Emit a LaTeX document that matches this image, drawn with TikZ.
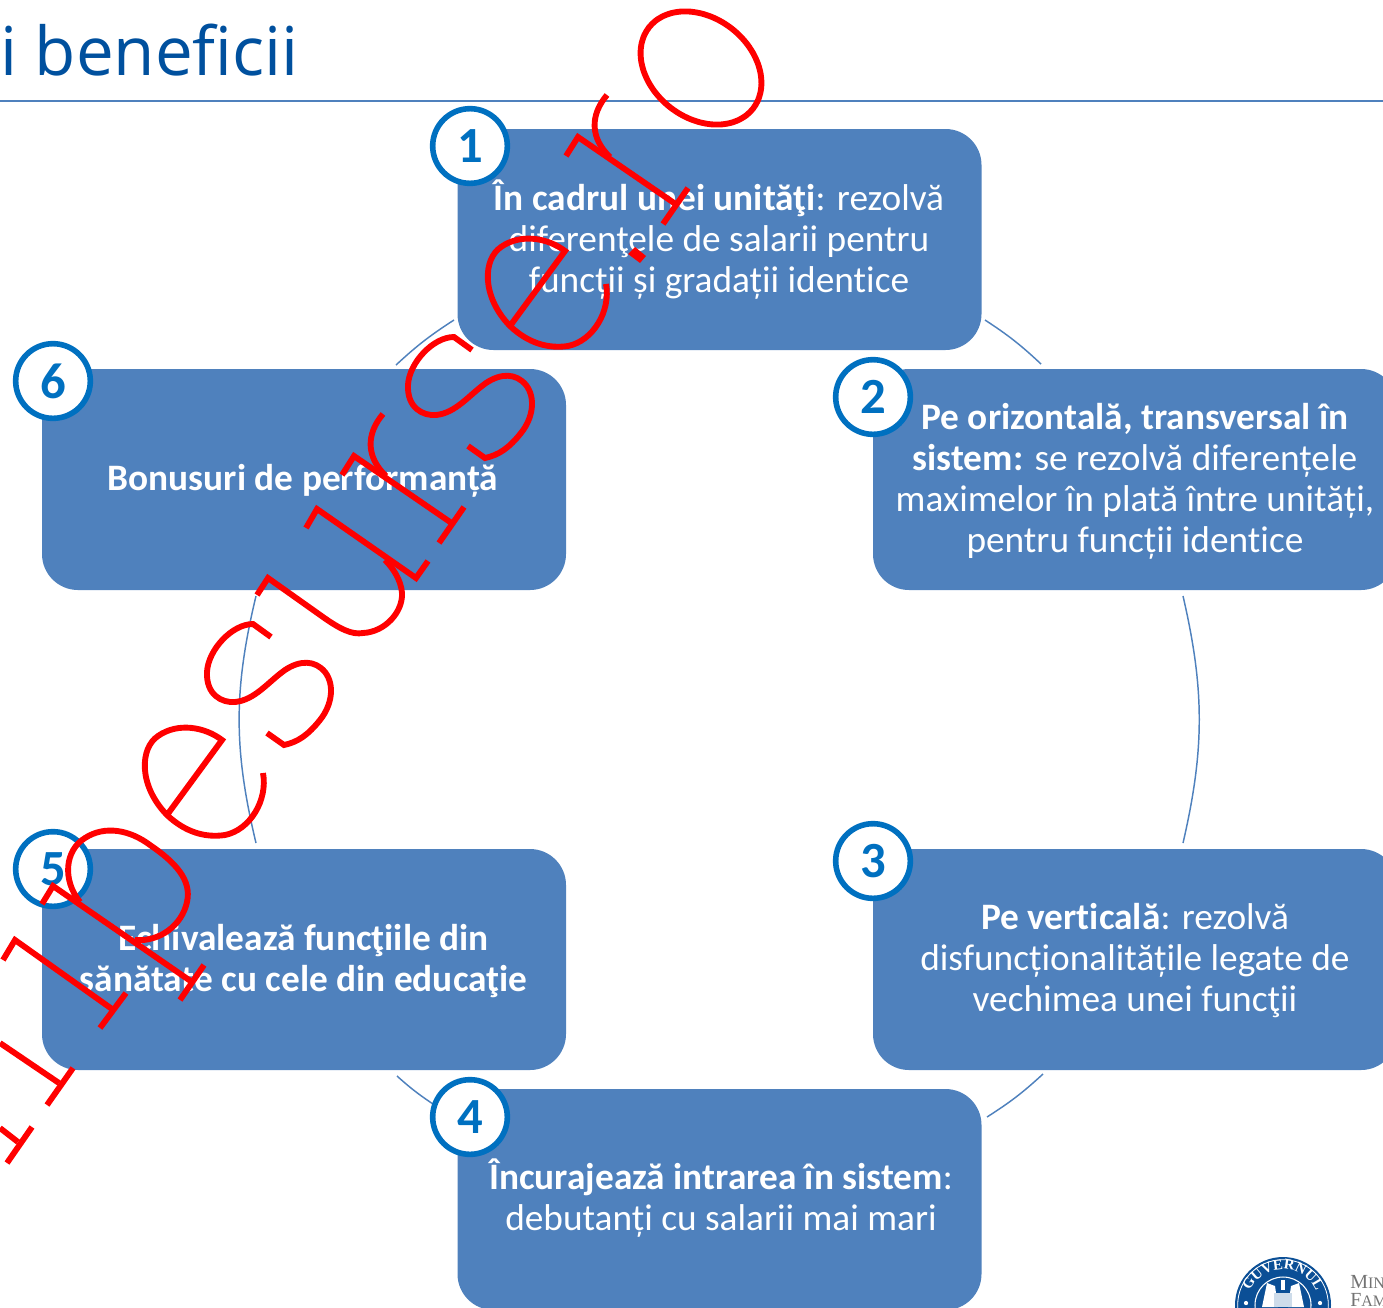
\documentclass[tikz,border=0pt]{standalone}
\usepackage{fontspec}
\setmainfont{Carlito}[Ligatures=CommonOff]
\newfontfamily\titlefont{Open Sans}
\newfontfamily\sealfont{Liberation Serif}
\usetikzlibrary{decorations.text}
\definecolor{boxblue}{HTML}{4F81BD}
\definecolor{ringblue}{HTML}{0070C0}
\definecolor{titleblue}{HTML}{00509E}
\definecolor{sealblue}{HTML}{0B4F96}
\definecolor{markred}{HTML}{FF0000}
\tikzset{
  stepbox/.style={fill=boxblue,rounded corners=27pt,minimum width=393pt,minimum height=165.75pt,inner sep=0pt},
  boxtext/.style={text=white,align=center,inner sep=0pt,font=\fontsize{28}{30.75}\selectfont},
  numring/.style={circle,draw=ringblue,line width=4.2pt,fill=white,minimum size=56pt,inner sep=0pt,
    text=ringblue,font=\fontsize{38}{38}\selectfont\bfseries},
  cyc/.style={draw=boxblue,line width=1.1pt},
  wm/.style={draw=markred,line width=4.4pt,line join=miter,miter limit=10},
  wmfill/.style={fill=markred}
}
\newcommand{\WmLetterE}[1]{%
  \draw[wm,shift={#1}] (167,815) -- (222,740) .. controls (205,727) and (178,722) .. (158,736)
    .. controls (140,748) and (138,785) .. (167,815)
    .. controls (185,832) and (205,838) .. (225,835)
    .. controls (250,830) and (268,800) .. (263,773);}
\newcommand{\WmLetterS}[1]{%
  \draw[wm,shift={#1}] (271,637) -- (253,624) .. controls (232,624) and (208,650) .. (207,672)
    .. controls (206,695) and (222,703) .. (235,702)
    .. controls (255,700) and (268,682) .. (285,670)
    .. controls (300,660) and (315,660) .. (325,672)
    .. controls (335,685) and (332,705) .. (320,720)
    .. controls (308,735) and (298,742) .. (284,745) -- (267,733);}
\newcommand{\WmLetterR}[1]{%
  \draw[wm,shift={#1}] (566,156) -- (578,137) -- (677,205);
  \draw[wm,shift={#1}] (663,224) -- (688,188);
  \draw[wm,shift={#1}] (607,95) .. controls (590,115) and (590,138) .. (610,157);}
\begin{document}
\begin{tikzpicture}[x=0.75pt,y=-0.75pt]
\useasboundingbox (0,0) rectangle (1383,1307);
% title
\node[anchor=base west,inner sep=0pt,text=titleblue,font=\titlefont\fontsize{50.5}{50.5}\selectfont] (title) at (0,75) {i beneficii};
\coordinate (ruleL) at (0,101);
\coordinate (ruleR) at (1383,101);
\draw[boxblue,line width=1.5pt] (ruleL) -- (ruleR);
% connector ends
\coordinate (a1) at (985,320);  \coordinate (a2) at (1041,364);
\coordinate (b2) at (1183,596); \coordinate (b3) at (1183,843);
\coordinate (c3) at (1043,1074);\coordinate (c4) at (987,1117);
\coordinate (d4) at (433,1104); \coordinate (d5) at (397,1076);
\coordinate (e5) at (256,843);  \coordinate (e6) at (256,596);
\coordinate (f6) at (396,365);  \coordinate (f1) at (454,320);
\draw[cyc] (a1) to[bend left=5] (a2);
\draw[cyc] (b2) to[bend left=13] (b3);
\draw[cyc] (c3) to[bend left=5] (c4);
\draw[cyc] (d4) to[bend left=4] (d5);
\draw[cyc] (e5) to[bend left=13.5] (e6);
\draw[cyc] (f6) to[bend left=5] (f1);
% boxes
\node[stepbox] (box1) at (719.5,239.5) {};
\node[stepbox] (box2) at (1135,479.5) {};
\node[stepbox] (box3) at (1135,959.5) {};
\node[stepbox] (box4) at (719.5,1199.5) {};
\node[stepbox] (box5) at (304,959.5) {};
\node[stepbox] (box6) at (304,479.5) {};
\node[boxtext] (t1) at (719,239.5) {\textbf{În cadrul unei unităţi}: rezolvă\\diferenţele de salarii pentru\\funcții și gradații identice};
\node[boxtext] (t2) at (1135,481) {\textbf{Pe orizontală, transversal în}\\\textbf{sistem:} se rezolvă diferențele\\maximelor în plată între unități,\\pentru funcții identice};
\node[boxtext] (t3) at (1135,961) {\textbf{Pe verticală}: rezolvă\\disfuncționalitățile legate de\\vechimea unei funcţii};
\node[boxtext] (t4) at (721,1198) {\textbf{Încurajează intrarea în sistem}:\\debutanți cu salarii mai mari};
\node[boxtext] (t5) at (303.5,961) {\textbf{Echivalează funcţiile din}\\\textbf{sănătate cu cele din educaţie}};
\node[boxtext] (t6) at (303,481) {\textbf{Bonusuri de performanță}};
% number rings
\node[numring] (n1) at (470,146) {1};
\node[numring] (n2) at (873,397) {2};
\node[numring] (n3) at (873,861) {3};
\node[numring] (n4) at (470,1117) {4};
\node[numring] (n5) at (53,869) {5};
\node[numring] (n6) at (53,381) {6};
% seal
\fill[sealblue] (1283,1305) circle[radius=36pt];
\draw[white,line width=0.6pt] (1283,1305) circle[radius=34pt];
\draw[white,line width=0.8pt,fill=sealblue] (1283,1305) circle[radius=21pt];
\path[postaction={decorate},decoration={text along path,text align=center,
  text={|\sealfont\fontsize{11}{11}\selectfont\bfseries\color{white}|GUVERNUL}}]
  (1248,1297) .. controls (1258,1260) and (1308,1260) .. (1318,1297);
\fill[white] (1246,1303) circle[radius=1.6pt] (1320,1303) circle[radius=1.6pt];
\fill[white] (1267,1283) -- (1275,1286) -- (1278,1307) -- (1262,1307) -- cycle;
\fill[white] (1299,1283) -- (1291,1286) -- (1288,1307) -- (1304,1307) -- cycle;
\fill[white] (1281,1280) rectangle (1285,1290);
\fill[white!80!sealblue] (1274,1293) rectangle (1292,1307);
\node[anchor=base west,inner sep=0pt,text=black!55,font=\sealfont] (minA) at (1350,1288) {\fontsize{15}{15}\selectfont M\fontsize{12}{12}\selectfont IN};
\node[anchor=base west,inner sep=0pt,text=black!55,font=\sealfont] (minB) at (1350,1306) {\fontsize{15}{15}\selectfont F\fontsize{12}{12}\selectfont AM};
% watermark strokes
% O
\draw[wm] plot[domain=0:350,samples=36,smooth cycle] ({701+66*cos(\x)*cos(38)-50*sin(\x)*sin(38)},{68+66*cos(\x)*sin(38)+50*sin(\x)*cos(38)});
\WmLetterR{(0,0)}
% period
\fill[wmfill] (635,247) -- (646,256) -- (640,263) -- (628,254) -- cycle;
\WmLetterE{(343,-489)}
\WmLetterS{(201,-287)}
\WmLetterR{(-224,319)}
% u
\draw[wm] (306,528) -- (317,509) -- (416,578) -- (428,561);
\draw[wm] (257,595) -- (268,578) -- (323,617) .. controls (340,629) and (352,635) .. (363,633)
  .. controls (385,632) and (403,612) .. (402,593) .. controls (401,580) and (393,568) .. (385,560);
\WmLetterS{(0,0)}
\WmLetterE{(0,0)}
% p
\draw[wm] (42,904) -- (53,886) -- (192,982);
\draw[wm] (180,1000) -- (204,965);
\draw[wm] (80,902) .. controls (62,880) and (65,850) .. (85,838) .. controls (105,825) and (130,830) .. (150,845)
  .. controls (175,862) and (192,880) .. (187,902) .. controls (182,925) and (160,942) .. (135,940);
% remaining stems
\draw[wm] (3,960) -- (15,940) -- (112,1009);
\draw[wm] (100,1028) -- (126,993);
\draw[wm] (0,1043) -- (59,1083);
\draw[wm] (47,1105) -- (73,1068);
\draw[wm] (0,1128) -- (18,1142);
\draw[wm] (7,1163) -- (32,1127);
\end{tikzpicture}
\end{document}
